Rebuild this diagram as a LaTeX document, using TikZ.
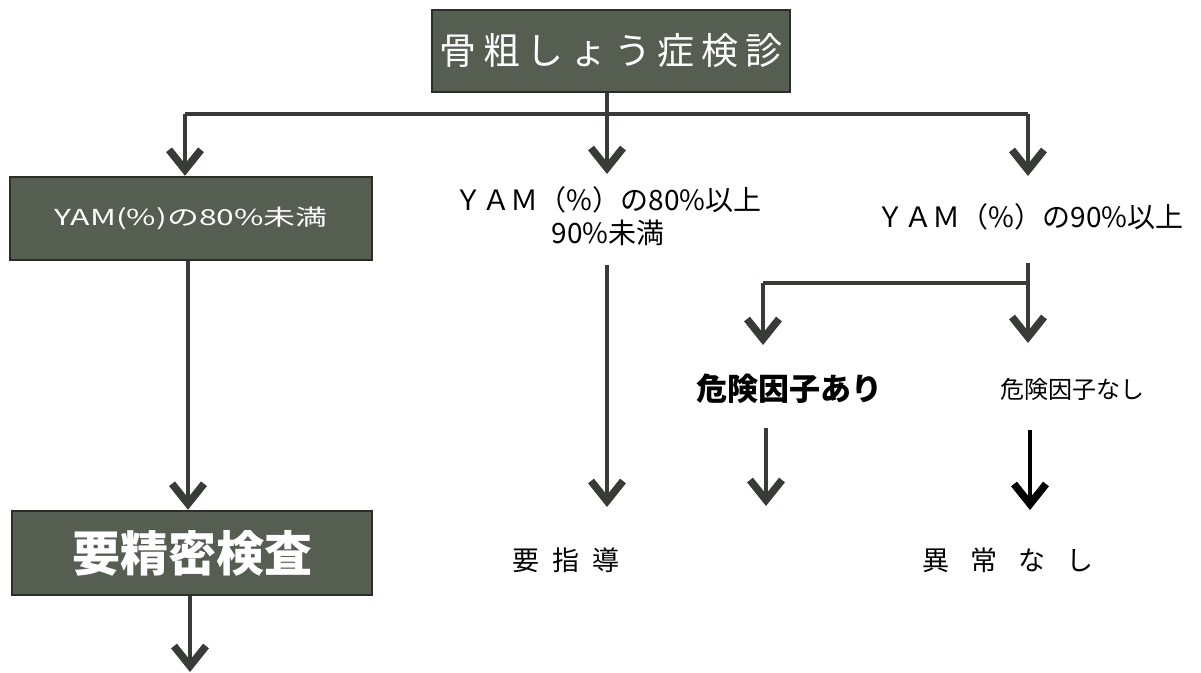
\documentclass[tikz,border=0pt]{standalone}
\usepackage{fontspec}
\setmainfont{Noto Sans CJK JP}
\newfontfamily\jp{Noto Sans CJK JP}
\newfontfamily\jpsp[LetterSpace=18]{Noto Sans CJK JP}
\usetikzlibrary{arrows.meta}
\definecolor{boxfill}{RGB}{86,94,82}
\definecolor{boxline}{RGB}{42,46,40}
\definecolor{linec}{RGB}{56,60,54}
\tikzset{
  box/.style={draw=boxline, line width=2.5pt, fill=boxfill, text=white, inner sep=0pt},
  conn/.style={draw=linec, line width=4.5pt},
  arr/.style={conn, -{Straight Barb[length=20pt,width=32pt,line width=7.5pt]}},
  lbl/.style={inner sep=0pt, text=black, align=center},
}
\begin{document}
\begin{tikzpicture}[x=1pt,y=-1pt]
\useasboundingbox (0,0) rectangle (1201,672);
% nodes
\node[box, minimum width=358pt, minimum height=82pt] (top) at (611,51)
  {\jpsp\fontsize{37pt}{40pt}\selectfont 骨粗しょう症検診};
\node[box, minimum width=362pt, minimum height=83pt] (lowbox) at (191,218.5)
  {\scalebox{1.45}[1]{\jp\fontsize{22pt}{26pt}\selectfont YAM(\%)の80\%未満}};
\node[lbl, font=\jp\fontsize{28pt}{33pt}\selectfont] (mid) at (608,216)
  {ＹＡＭ（\%）の80\%以上\\90\%未満};
\node[lbl, font=\jp\fontsize{28pt}{33pt}\selectfont] (high) at (1030,217)
  {ＹＡＭ（\%）の90\%以上};
\node[box, minimum width=360pt, minimum height=84pt] (seimitsu) at (192,553)
  {\jp\bfseries\fontsize{48pt}{52pt}\selectfont 要精密検査};
\node[lbl, font=\jp\bfseries\fontsize{31pt}{34pt}\selectfont] (ari) at (789,389) {危険因子あり};
\node[lbl, font=\jp\fontsize{24pt}{28pt}\selectfont] (nashi) at (1072,389) {危険因子なし};
\node[lbl, font=\jp\fontsize{27pt}{31pt}\selectfont] (shido) at (566,560)
  {要\hspace{13pt}指\hspace{13pt}導};
\node[lbl, font=\jp\fontsize{27pt}{31pt}\selectfont] (ijo) at (1008,560)
  {異\hspace{21pt}常\hspace{21pt}な\hspace{21pt}し};
% junction coordinates
\coordinate (stem) at (607,114);
\coordinate (jl) at (185,114);
\coordinate (jr) at (1028,114);
\coordinate (midtop) at (607,174);
\coordinate (hightop) at (1028,176);
\coordinate (rstart) at (1028,263);
\coordinate (rj) at (1028,283);
\coordinate (lj) at (763,283);
\coordinate (aritop) at (763,345);
\coordinate (nashitop) at (1028,343);
\coordinate (midstart) at (607,265);
\coordinate (midend) at (607,507);
\coordinate (aris) at (766,428);
\coordinate (arie) at (766,506);
\coordinate (nashis) at (1030,430);
\coordinate (nashie) at (1030,510);
\coordinate (bottomend) at (190,672);
% connectors
\draw[conn] (top.south -| stem) -- (stem);
\draw[conn] (jl) -- (jr);
\draw[arr] (jl) -- (jl |- lowbox.north);
\draw[arr] (stem) -- (midtop);
\draw[arr] (jr) -- (hightop);
\draw[arr] (lowbox.south -| 188,0) -- (188,0 |- seimitsu.north);
\draw[arr] (seimitsu.south -| bottomend) -- (bottomend);
\draw[arr] (midstart) -- (midend);
\draw[conn] (rstart) -- (rj) -- (lj);
\draw[arr] (lj) -- (aritop);
\draw[arr] (rj) -- (nashitop);
\draw[arr] (aris) -- (arie);
\draw[arr, draw=black] (nashis) -- (nashie);
\end{tikzpicture}
\end{document}
